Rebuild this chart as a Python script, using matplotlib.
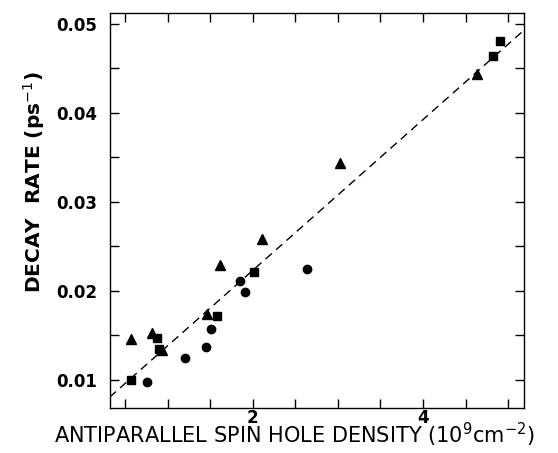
import numpy as np
import matplotlib
matplotlib.use("Agg")
import matplotlib.pyplot as plt
from matplotlib.ticker import MultipleLocator

plt.rcParams['font.family'] = ['DejaVu Sans']

# data
sq_x = [0.565, 0.878, 0.90, 1.576, 2.02, 4.82, 4.91]
sq_y = [0.0100, 0.0147, 0.0135, 0.0172, 0.0221, 0.0464, 0.0481]

circ_x = [0.753, 1.21, 1.45, 1.513, 1.85, 1.906, 2.635]
circ_y = [0.0097, 0.0124, 0.0137, 0.0157, 0.0211, 0.0199, 0.0224]

tri_x = [0.565, 0.812, 0.93, 1.466, 1.61, 2.11, 3.03, 4.63]
tri_y = [0.0146, 0.0152, 0.0133, 0.0174, 0.0229, 0.0258, 0.0343, 0.0443]

# dashed fit line
fit_slope = 0.00847
fit_icpt = 0.00534

xlim = (0.32, 5.19)
ylim = (0.00686, 0.05116)

W, H = 558, 453
fig = plt.figure(figsize=(W / 100, H / 100), dpi=100)
ax = fig.add_axes([0.1966, 0.1, 0.743, 0.8706])

xx = np.array(xlim)
ax.plot(xx, fit_icpt + fit_slope * xx, 'k--', lw=1.0, dashes=(6, 4))

ax.plot(sq_x, sq_y, 'ks', ms=6)
ax.plot(circ_x, circ_y, 'ko', ms=6)
ax.plot(tri_x, tri_y, 'k^', ms=6.5)

ax.set_xlim(xlim)
ax.set_ylim(ylim)

ax.xaxis.set_major_locator(MultipleLocator(2))
ax.xaxis.set_minor_locator(MultipleLocator(0.5))
ax.yaxis.set_major_locator(MultipleLocator(0.01))
ax.yaxis.set_minor_locator(MultipleLocator(0.005))
ax.yaxis.set_major_formatter(matplotlib.ticker.FormatStrFormatter('%.2f'))

ax.tick_params(which='both', direction='in', top=True, right=True, length=6.5, width=1)
ax.tick_params(axis='y', which='major', pad=9)
ax.tick_params(axis='x', which='major', pad=1)
for lab in ax.get_xticklabels() + ax.get_yticklabels():
    lab.set_fontsize(12)
    lab.set_fontweight('bold')
for s in ax.spines.values():
    s.set_linewidth(1.0)

# axis titles placed where they sit in the original
fig.text(294 / W, 1 - 443 / H, r'ANTIPARALLEL SPIN HOLE DENSITY (10$^{9}$cm$^{-2}$)',
         fontsize=15, ha='center', va='baseline')
fig.text(34 / W, 1 - 182 / H, r'DECAY  RATE (ps$^{-1}$)', fontsize=14.5,
         fontweight='bold', rotation=90, ha='center', va='center')

fig.savefig('out.png', dpi=100)
